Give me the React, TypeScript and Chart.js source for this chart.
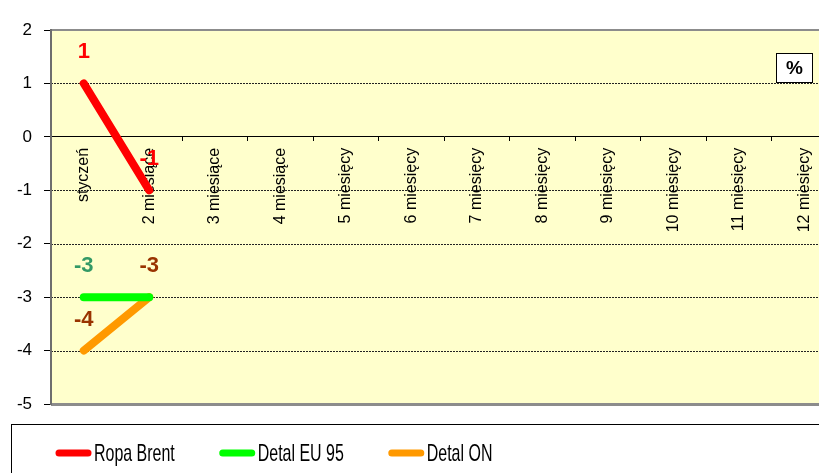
import React, { useEffect, useRef } from 'react';
import { Chart, registerables } from 'chart.js';

Chart.register(...registerables);

const categories = ['styczeń', '2 miesiące', '3 miesiące', '4 miesiące', '5 miesięcy', '6 miesięcy', '7 miesięcy', '8 miesięcy', '9 miesięcy', '10 miesięcy', '11 miesięcy', '12 miesięcy'];
const ropaBrent: (number | null)[] = [1, -1, null, null, null, null, null, null, null, null, null, null];
const detalEU95: (number | null)[] = [-3, -3, null, null, null, null, null, null, null, null, null, null];
const detalON: (number | null)[] = [-4, -3, null, null, null, null, null, null, null, null, null, null];
const seriesNames = ['Ropa Brent', 'Detal EU 95', 'Detal ON'];
const yTicks = [2, 1, 0, -1, -2, -3, -4, -5];
const unitLabel = '%';

const lineColors = ['#FF0000', '#00FF00', '#FF9900'];
const labelColors = ['#FF0000', '#339966', '#993300'];

const bgPlugin = {
  id: 'bgPlugin',
  beforeDraw(chart: any) {
    const { ctx, chartArea } = chart;
    const y = chart.scales.y;
    ctx.save();
    ctx.fillStyle = '#FFFFCC';
    ctx.fillRect(chartArea.left, chartArea.top, chartArea.right - chartArea.left, chartArea.bottom - chartArea.top);
    ctx.strokeStyle = '#222';
    ctx.lineWidth = 1;
    ctx.setLineDash([2, 1]);
    for (const v of yTicks) {
      if (v === 0 || v === yTicks[0] || v === yTicks[yTicks.length - 1]) continue;
      const py = Math.round(y.getPixelForValue(v)) + 0.5;
      ctx.beginPath();
      ctx.moveTo(chartArea.left, py);
      ctx.lineTo(chartArea.right, py);
      ctx.stroke();
    }
    ctx.setLineDash([]);
    ctx.strokeStyle = '#8C8C8C';
    ctx.lineWidth = 2;
    ctx.beginPath();
    ctx.moveTo(chartArea.left, chartArea.top);
    ctx.lineTo(chartArea.right, chartArea.top);
    ctx.stroke();
    ctx.lineWidth = 3;
    ctx.beginPath();
    ctx.moveTo(chartArea.left, chartArea.bottom + 0.5);
    ctx.lineTo(chartArea.right, chartArea.bottom + 0.5);
    ctx.stroke();
    ctx.restore();
  },
  afterDatasetsDraw(chart: any) {
    const { ctx } = chart;
    ctx.save();
    ctx.font = 'bold 22px Arial, "Liberation Sans", sans-serif';
    ctx.textAlign = 'center';
    ctx.textBaseline = 'middle';
    const ds = chart.data.datasets;
    ds.forEach((d: any, di: number) => {
      const meta = chart.getDatasetMeta(di);
      d.data.forEach((v: number | null, i: number) => {
        if (v === null || v === undefined) return;
        for (let k = di + 1; k < ds.length; k++) {
          if (ds[k].data[i] === v) return;
        }
        const pt = meta.data[i];
        ctx.fillStyle = labelColors[di];
        ctx.fillText(String(v), pt.x, pt.y - 31);
      });
    });
    ctx.restore();
  },
  afterDraw(chart: any) {
    const { ctx } = chart;
    ctx.save();
    ctx.fillStyle = '#FFFFFF';
    ctx.fillRect(776, 53, 37, 30);
    ctx.strokeStyle = '#000';
    ctx.lineWidth = 1;
    ctx.strokeRect(776.5, 53.5, 36, 29);
    ctx.fillStyle = '#000';
    ctx.font = 'bold 19px Arial, "Liberation Sans", sans-serif';
    ctx.textAlign = 'center';
    ctx.textBaseline = 'middle';
    ctx.fillText(unitLabel, 794.5, 69);
    ctx.strokeStyle = '#000';
    ctx.lineWidth = 1;
    ctx.strokeRect(11.5, 424.5, 900, 100);
    const sx = 0.665;
    ctx.font = '24px Arial, "Liberation Sans", sans-serif';
    ctx.textAlign = 'left';
    ctx.textBaseline = 'middle';
    let x = 56;
    const cy = 453;
    seriesNames.forEach((name, i) => {
      ctx.strokeStyle = lineColors[i];
      ctx.lineWidth = 7;
      ctx.lineCap = 'round';
      ctx.beginPath();
      ctx.moveTo(x + 3, cy);
      ctx.lineTo(x + 32, cy);
      ctx.stroke();
      const tx = x + 38;
      ctx.save();
      ctx.translate(tx, cy + 1);
      ctx.scale(sx, 1);
      ctx.fillStyle = '#000';
      ctx.fillText(name, 0, 0);
      ctx.restore();
      const w = ctx.measureText(name).width * sx;
      x = tx + w + 45;
    });
    ctx.restore();
  },
};

export default function App() {
  const ref = useRef<HTMLCanvasElement | null>(null);
  useEffect(() => {
    if (!ref.current) return;
    const chart = new Chart(ref.current, {
      type: 'line',
      data: {
        labels: categories,
        datasets: [ropaBrent, detalEU95, detalON].map((data, i) => ({
          label: seriesNames[i],
          data,
          borderColor: lineColors[i],
          backgroundColor: lineColors[i],
          borderWidth: 8,
          borderCapStyle: 'round' as const,
          borderJoinStyle: 'round' as const,
          pointRadius: 0,
          pointHoverRadius: 0,
          tension: 0,
          spanGaps: false,
        })),
      },
      options: {
        responsive: false,
        animation: false,
        devicePixelRatio: 1,
        layout: { padding: { left: 0, top: 30, right: 23, bottom: 96 } },
        plugins: {
          legend: { display: false },
          title: { display: false },
          tooltip: { enabled: false },
        },
        scales: {
          x: {
            type: 'category',
            position: { y: 0 } as any,
            offset: true,
            grid: {
              offset: true,
              drawOnChartArea: false,
              drawTicks: true,
              tickLength: 4,
              color: '#000',
            },
            border: { display: true, color: '#000', width: 1 },
            ticks: {
              autoSkip: false,
              minRotation: 90,
              maxRotation: 90,
              padding: 7,
              color: '#000',
              font: { family: 'Arial, "Liberation Sans", sans-serif', size: 16 },
            },
          },
          y: {
            min: -5,
            max: 2,
            afterFit(scale: any) {
              scale.width = 51;
            },
            grid: {
              drawOnChartArea: false,
              drawTicks: true,
              tickLength: 7,
              color: '#000',
            },
            border: { display: true, color: '#6E6E6E', width: 2 },
            ticks: {
              stepSize: 1,
              padding: 12,
              color: '#000',
              font: { family: 'Arial, "Liberation Sans", sans-serif', size: 17 },
            },
          },
        },
      },
      plugins: [bgPlugin],
    });
    return () => chart.destroy();
  }, []);
  return (
    <div style={{ position: 'absolute', left: 0, top: 0, width: 819, height: 473, overflow: 'hidden', background: '#fff' }}>
      <canvas ref={ref} width={860} height={500} style={{ width: 860, height: 500, display: 'block' }} />
    </div>
  );
}
